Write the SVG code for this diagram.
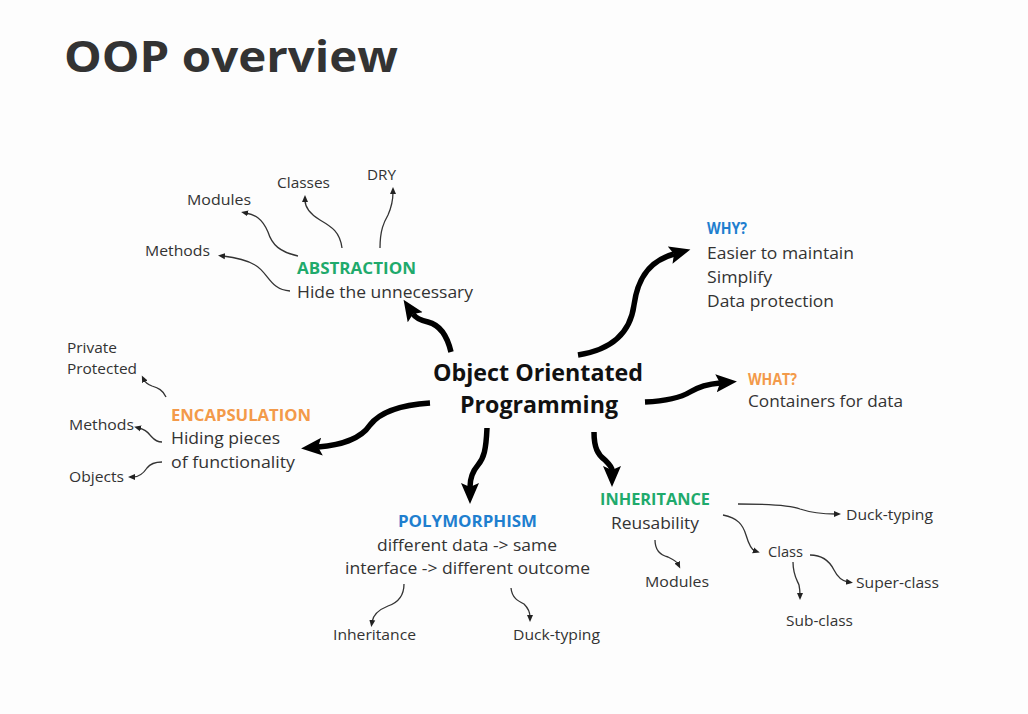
<svg xmlns="http://www.w3.org/2000/svg" width="1028" height="714" viewBox="0 0 1028 714">
<defs>
<style>
text{font-family:"Open Sans","Noto Sans","Liberation Sans",sans-serif;fill:#333}
.t{font-size:14.5px}
.b{font-size:16.5px}
.h{font-size:16px;font-weight:bold}
.g{fill:#1faa6c}
.bl{fill:#1f7fcf}
.o{fill:#f39a4a}
.c{font-size:23px;font-weight:bold;fill:#111}
.thin{fill:none;stroke:#333;stroke-width:1.3;marker-end:url(#sm)}
.thick{fill:none;stroke:#000;stroke-width:5.5;stroke-linecap:butt;marker-end:url(#bm)}
</style>
<marker id="sm" markerUnits="userSpaceOnUse" markerWidth="8" markerHeight="8" refX="2" refY="4" orient="auto"><path d="M0,1 L7,4 L0,7 Z" fill="#222"/></marker>
<marker id="bm" markerUnits="userSpaceOnUse" markerWidth="22" markerHeight="20" refX="4" refY="10" orient="auto"><path d="M0,1 L21,10 L0,19 L4,10 Z" fill="#000"/></marker>
</defs>
<rect width="1028" height="714" fill="#fdfdfd"/>
<text x="64" y="72" font-size="43" font-weight="bold" fill="#333" textLength="334" lengthAdjust="spacingAndGlyphs">OOP overview</text>

<g id="connectors">
<path class="thick" d="M578,355 C610,350 630,335 634,305 C638,275 652,260 674,254"/>
<path class="thick" d="M645,402 C665,401 680,398 690,392 C700,386 708,384 720,383"/>
<path class="thick" d="M451,352 C447,335 440,325 428,322 C419,320 415,317 413,314"/>
<path class="thick" d="M430,403 C400,405 380,412 370,425 C360,440 340,445 318,447"/>
<path class="thick" d="M487,428 C486,450 484,458 478,465 C472,472 470,478 470,487"/>
<path class="thick" d="M594,432 C594,448 598,455 605,460 C610,465 612,468 612,470"/>
<path class="thin" d="M290,291 C270,290 268,272 255,265 C245,259 232,257 223,256"/>
<path class="thin" d="M298,256 C280,252 272,245 268,232 C262,218 255,215 246,213"/>
<path class="thin" d="M342,248 C340,232 332,227 320,220 C310,214 305,207 305,200"/>
<path class="thin" d="M380,248 C380,230 384,222 388,215 C392,206 393,198 393,192"/>
<path class="thin" d="M166,397 C163,390 158,388 152,386 C147,384 145,382 144,380"/>
<path class="thin" d="M162,442 C155,442 153,438 150,435 C147,431 143,429 139,428"/>
<path class="thin" d="M162,462 C155,462 150,464 147,468 C143,474 139,477 133,477"/>
<path class="thin" d="M404,584 C404,596 397,603 388,606 C378,610 373,615 372,622"/>
<path class="thin" d="M511,588 C512,598 518,601 524,604 C528,608 530,612 530,617"/>
<path class="thin" d="M738,504 C760,504 790,505 800,509 C812,513 825,514 836,514"/>
<path class="thin" d="M723,515 C738,518 743,525 746,535 C749,545 752,550 755,551"/>
<path class="thin" d="M655,540 C655,550 660,555 668,557 C674,560 677,562 678,564"/>
<path class="thin" d="M810,555 C822,555 830,562 834,570 C838,578 842,581 848,582"/>
<path class="thin" d="M793,562 C793,575 797,580 799,585 C800,590 800,593 800,595"/>
</g>

<g id="center">
<text class="c" x="433" y="381" textLength="210" lengthAdjust="spacingAndGlyphs">Object Orientated</text>
<text class="c" x="460" y="413" textLength="158" lengthAdjust="spacingAndGlyphs">Programming</text>
</g>

<g id="abstraction">
<text class="h g" x="297" y="274" textLength="119" lengthAdjust="spacingAndGlyphs">ABSTRACTION</text>
<text class="b" x="297" y="298" textLength="176" lengthAdjust="spacingAndGlyphs">Hide the unnecessary</text>
</g>
<g id="abs-methods"><text class="t" x="145" y="256" textLength="65" lengthAdjust="spacingAndGlyphs">Methods</text></g>
<g id="abs-modules"><text class="t" x="187" y="205" textLength="64" lengthAdjust="spacingAndGlyphs">Modules</text></g>
<g id="abs-classes"><text class="t" x="277" y="188" textLength="53" lengthAdjust="spacingAndGlyphs">Classes</text></g>
<g id="abs-dry"><text class="t" x="367" y="180" textLength="29" lengthAdjust="spacingAndGlyphs">DRY</text></g>

<g id="why">
<text class="h bl" x="707" y="234" textLength="40" lengthAdjust="spacingAndGlyphs">WHY?</text>
<text class="b" x="707" y="259" textLength="147" lengthAdjust="spacingAndGlyphs">Easier to maintain</text>
<text class="b" x="707" y="283" textLength="65" lengthAdjust="spacingAndGlyphs">Simplify</text>
<text class="b" x="707" y="307" textLength="127" lengthAdjust="spacingAndGlyphs">Data protection</text>
</g>

<g id="what">
<text class="h o" x="748" y="385" textLength="49" lengthAdjust="spacingAndGlyphs">WHAT?</text>
<text class="b" x="748" y="407" textLength="155" lengthAdjust="spacingAndGlyphs">Containers for data</text>
</g>

<g id="encapsulation">
<text class="h o" x="171" y="421" textLength="140" lengthAdjust="spacingAndGlyphs">ENCAPSULATION</text>
<text class="b" x="171" y="444" textLength="109" lengthAdjust="spacingAndGlyphs">Hiding pieces</text>
<text class="b" x="171" y="468" textLength="124" lengthAdjust="spacingAndGlyphs">of functionality</text>
</g>
<g id="enc-private">
<text class="t" x="67" y="353" textLength="50" lengthAdjust="spacingAndGlyphs">Private</text>
<text class="t" x="67" y="374" textLength="70" lengthAdjust="spacingAndGlyphs">Protected</text>
</g>
<g id="enc-methods"><text class="t" x="69" y="430" textLength="65" lengthAdjust="spacingAndGlyphs">Methods</text></g>
<g id="enc-objects"><text class="t" x="69" y="482" textLength="55" lengthAdjust="spacingAndGlyphs">Objects</text></g>

<g id="polymorphism">
<text class="h bl" x="398" y="527" textLength="139" lengthAdjust="spacingAndGlyphs">POLYMORPHISM</text>
<text class="b" x="377" y="551" textLength="180" lengthAdjust="spacingAndGlyphs">different data -&gt; same</text>
<text class="b" x="345" y="574" textLength="245" lengthAdjust="spacingAndGlyphs">interface -&gt; different outcome</text>
</g>
<g id="poly-inheritance"><text class="t" x="333" y="640" textLength="83" lengthAdjust="spacingAndGlyphs">Inheritance</text></g>
<g id="poly-duck"><text class="t" x="513" y="640" textLength="87" lengthAdjust="spacingAndGlyphs">Duck-typing</text></g>

<g id="inheritance">
<text class="h g" x="600" y="505" textLength="110" lengthAdjust="spacingAndGlyphs">INHERITANCE</text>
<text class="b" x="611" y="529" textLength="88" lengthAdjust="spacingAndGlyphs">Reusability</text>
</g>
<g id="inh-duck"><text class="t" x="846" y="520" textLength="87" lengthAdjust="spacingAndGlyphs">Duck-typing</text></g>
<g id="inh-class"><text class="t" x="768" y="557" textLength="35" lengthAdjust="spacingAndGlyphs">Class</text></g>
<g id="inh-super"><text class="t" x="856" y="588" textLength="83" lengthAdjust="spacingAndGlyphs">Super-class</text></g>
<g id="inh-modules"><text class="t" x="645" y="587" textLength="64" lengthAdjust="spacingAndGlyphs">Modules</text></g>
<g id="inh-sub"><text class="t" x="786" y="626" textLength="67" lengthAdjust="spacingAndGlyphs">Sub-class</text></g>
</svg>
